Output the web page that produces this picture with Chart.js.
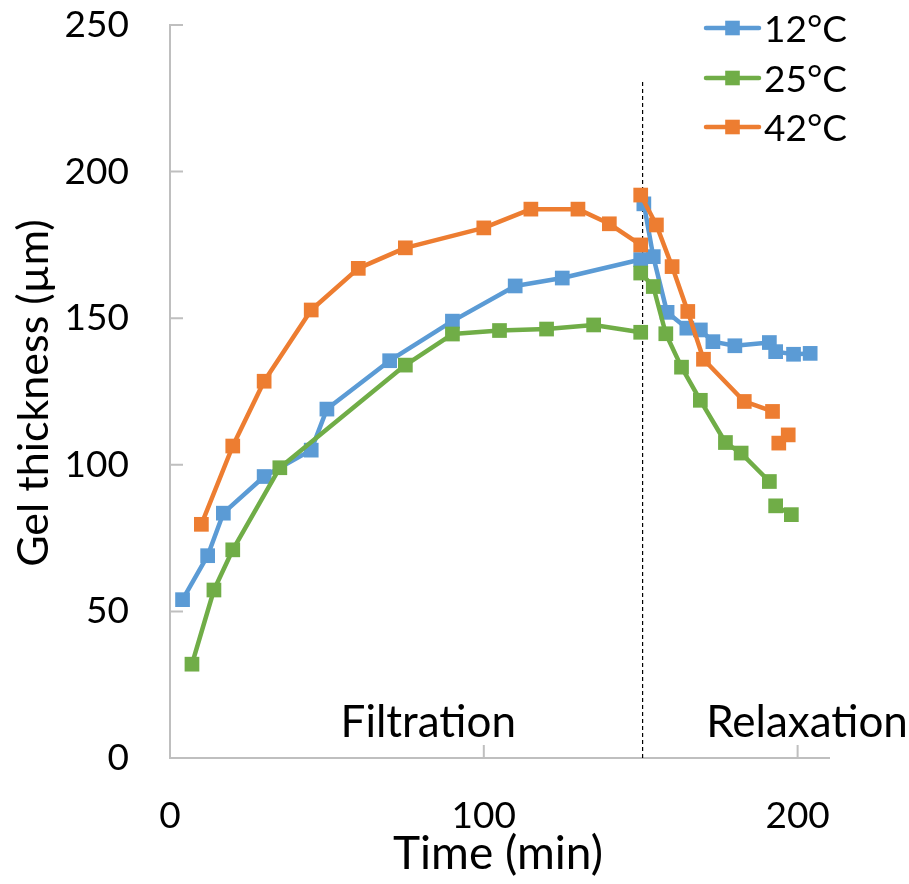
<!DOCTYPE html>
<html>
<head>
<meta charset="utf-8">
<script src="https://cdn.jsdelivr.net/npm/chart.js@4.4.1/dist/chart.umd.min.js"></script>
<style>
html,body{margin:0;padding:0;background:#fff;}
#wrap{width:909px;height:884px;position:relative;}
</style>
</head>
<body>
<div id="wrap"><canvas id="c" width="909" height="884"></canvas></div>
<script>
// ---------- data ----------
const seriesNames = ['12°C', '25°C', '42°C'];
const seriesColors = ['#5B9BD5', '#70AD47', '#ED7D31'];

// null entries = break between filtration and relaxation runs
const time12  = [4, 12, 17, 30, 45, 50, 70, 90, 110, 125, 150, null, 151, 154, 158.4, 164.7, 169, 173, 180, 191, 193, 198.7, 204];
const thick12 = [54, 69, 83.5, 96, 105, 119, 135.5, 149, 161, 163.7, 170, null, 189, 171, 152, 146.6, 146, 142, 140.6, 141.7, 138.6, 137.7, 138];

const time25  = [7, 14, 20, 35, 75, 90, 105, 120, 135, 150, null, 150, 154, 158, 163, 169, 177, 182, 191, null, 193, 198];
const thick25 = [32, 57.3, 71, 99, 134, 144.6, 145.8, 146.3, 147.7, 145.2, null, 165.4, 160.8, 144.7, 133.3, 122, 107.6, 104, 94.3, null, 86, 83];

const time42  = [10, 20, 30, 45, 60, 75, 100, 115, 130, 140, 150, null, 150, 155, 160, 165, 170, 183, 192, null, 194, 197];
const thick42 = [79.7, 106.4, 128.5, 152.8, 167, 174, 180.8, 187.2, 187.2, 182.2, 175, null, 192, 181.8, 167.6, 152.3, 136, 121.6, 118.2, null, 107.4, 110.2];

const xTicks = [0, 100, 200];
const yTicks = [0, 50, 100, 150, 200, 250];
const xTitle = 'Time (min)';
const yTitle = 'Gel thickness (µm)';

const phaseLabels = ['Filtration', 'Relaxation'];
const phaseX = [82.3, 203];
const phaseY = [7.3, 7.3];

const dividerX = [150.6, 150.6];
const dividerY = [0, 230.6];

// ---------- build ----------
const FONT = 'Lato';
const pts = (xs, ys) => xs.map((v, i) => ({x: v, y: ys[i]}));
const series = [[time12, thick12], [time25, thick25], [time42, thick42]];
const drawOrder = [2, 1, 0];

const datasets = series.map((s, i) => ({
  label: seriesNames[i],
  data: pts(s[0], s[1]),
  showLine: true,
  spanGaps: false,
  borderColor: seriesColors[i],
  backgroundColor: seriesColors[i],
  borderWidth: 4.5,
  borderCapStyle: 'round',
  borderJoinStyle: 'round',
  pointStyle: 'rect',
  pointRadius: 10.4,
  pointBorderWidth: 0,
  pointBackgroundColor: seriesColors[i],
  order: drawOrder[i]
}));
datasets.push({
  label: 'divider',
  data: pts(dividerX, dividerY),
  showLine: true,
  borderColor: '#000',
  borderWidth: 1.2,
  borderDash: [4, 3],
  pointRadius: 0,
  order: 5
});

const decor = {
  id: 'decor',
  beforeDatasetsDraw(chart) {
    const {ctx, scales: {x, y}} = chart;
    ctx.save();
    ctx.strokeStyle = '#BFBFBF';
    ctx.lineWidth = 2;
    ctx.beginPath();
    yTicks.forEach(v => {
      const py = y.getPixelForValue(v);
      ctx.moveTo(x.left, py); ctx.lineTo(x.left + 13, py);
    });
    xTicks.forEach(v => {
      const px = x.getPixelForValue(v);
      ctx.moveTo(px, y.bottom); ctx.lineTo(px, y.bottom - 13);
    });
    ctx.stroke();
    ctx.restore();
  },
  afterDraw(chart) {
    const {ctx, scales: {x, y}} = chart;
    ctx.save();
    ctx.fillStyle = '#000';
    ctx.textAlign = 'center';
    ctx.textBaseline = 'alphabetic';
    ctx.font = `44px ${FONT}`;
    phaseLabels.forEach((t, i) => ctx.fillText(t, x.getPixelForValue(phaseX[i]), y.getPixelForValue(phaseY[i])));
    ctx.font = `46px ${FONT}`;
    ctx.fillText(xTitle, 498, 869);
    ctx.save();
    ctx.font = `43px ${FONT}`;
    ctx.translate(48, 393);
    ctx.rotate(-Math.PI / 2);
    ctx.fillText(yTitle, 0, 0);
    ctx.restore();
    // legend
    const rows = [28, 78, 127];
    seriesNames.forEach((n, i) => {
      const cy = rows[i];
      ctx.strokeStyle = seriesColors[i];
      ctx.lineWidth = 4.5;
      ctx.lineCap = 'round';
      ctx.beginPath(); ctx.moveTo(706, cy); ctx.lineTo(759, cy); ctx.stroke();
      ctx.fillStyle = seriesColors[i];
      ctx.fillRect(732.5 - 7.3, cy - 7.3, 14.6, 14.6);
      ctx.fillStyle = '#000';
      ctx.textAlign = 'left';
      ctx.textBaseline = 'middle';
      ctx.font = `37px ${FONT}`;
      ctx.fillText(n, 764, cy + 2);
    });
    ctx.restore();
  }
};

new Chart(document.getElementById('c'), {
  type: 'scatter',
  data: {datasets},
  options: {
    responsive: false,
    animation: false,
    devicePixelRatio: 1,
    layout: {padding: {top: 25, right: 80, left: 0, bottom: 0}},
    plugins: {legend: {display: false}, tooltip: {enabled: false}},
    scales: {
      x: {
        type: 'linear', min: 0, max: 210,
        afterBuildTicks: s => { s.ticks = xTicks.map(v => ({value: v})); },
        grid: {display: false, drawTicks: true, tickLength: 36},
        border: {display: true, color: '#BFBFBF', width: 2},
        ticks: {color: '#000', font: {family: FONT, size: 37}, padding: 0, maxRotation: 0, autoSkip: false},
        afterFit: s => { s.height = 126; }
      },
      y: {
        type: 'linear', min: 0, max: 250,
        afterBuildTicks: s => { s.ticks = yTicks.map(v => ({value: v})); },
        grid: {display: false, drawTicks: true, tickLength: 41},
        border: {display: true, color: '#BFBFBF', width: 2},
        ticks: {color: '#000', font: {family: FONT, size: 37}, padding: 0},
        afterFit: s => { s.width = 170; }
      }
    }
  },
  plugins: [decor]
});
</script>
</body>
</html>
